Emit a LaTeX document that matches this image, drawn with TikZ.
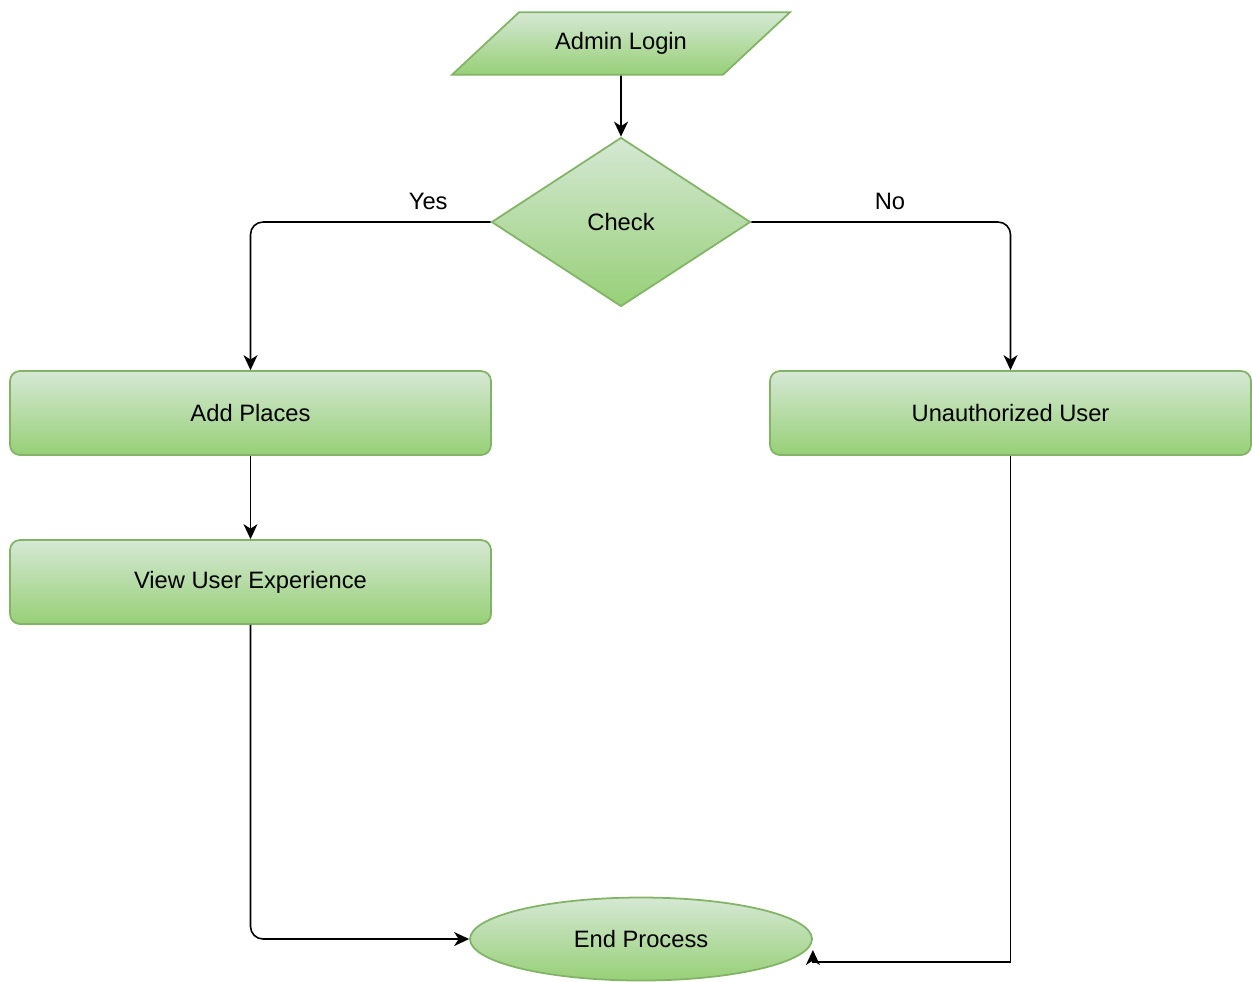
\documentclass[tikz,border=0pt]{standalone}
\usepackage{fontspec}
\setmainfont{Liberation Sans}
\usetikzlibrary{arrows.meta, shapes.geometric, positioning}

\definecolor{boxtop}{HTML}{D5E8D4}
\definecolor{boxbottom}{HTML}{97D077}
\definecolor{boxline}{HTML}{82B366}

\begin{document}
\begin{tikzpicture}[
            > = {Stealth[length=3mm, width=2.8mm, inset=0.9mm]}, % arrow head style
            line width = 0.9pt, % line style
            font = \fontsize{13.5}{16}\selectfont
        ]

        \tikzset{
            greenbox/.style = {
                draw = boxline,
                top color = boxtop,
                bottom color = boxbottom,
                line width = 1pt
            },
            processbox/.style = {
                greenbox,
                rectangle,
                rounded corners = 0.2cm,
                minimum width = 9.62cm,
                minimum height = 1.68cm
            },
            flow/.style = {
                ->,
                draw = black,
                rounded corners = 0.25cm
            }
        }

        \useasboundingbox (0,0) rectangle (25.04,-19.62);

        \node[greenbox, trapezium, trapezium left angle=43, trapezium right angle=137,
              trapezium stretches body, minimum width=6.76cm, text height=0.35cm,
              text depth=0.1cm, inner xsep=0pt, inner ysep=0.4cm] (login) at (12.42,-0.87) {Admin Login};
        \node[greenbox, diamond, minimum width=5.18cm, minimum height=3.38cm,
              inner sep=0pt] (check) at (12.42,-4.44) {Check};
        \node[processbox] (places) at (5.01,-8.26) {Add Places};
        \node[processbox] (experience) at (5.01,-11.64) {View User Experience};
        \node[processbox] (unauth) at (20.21,-8.26) {Unauthorized User};
        \node[greenbox, ellipse, minimum width=6.84cm, minimum height=1.66cm,
              inner sep=0pt] (finish) at (12.82,-18.78) {End Process};

        \coordinate (finishcorner) at ([yshift=-0.46cm]finish.east);
        \coordinate (finishtip) at ([yshift=-0.22cm]finish.east);

        % main flow
        \draw[flow] (login) -- (check);
        \draw[flow] (check.west) -- node[above=0.12cm, pos=0.26] {Yes} (check.west -| places) -- (places);
        \draw[flow] (check.east) -- node[above=0.12cm, pos=0.535] {No} (check.east -| unauth) -- (unauth);
        \draw[flow] (places) -- (experience);

        % to the end
        \draw[flow] (experience) |- (finish.west);
        \draw[->] (unauth.south) |- (finishcorner) -- (finishtip);

    \end{tikzpicture}
\end{document}
